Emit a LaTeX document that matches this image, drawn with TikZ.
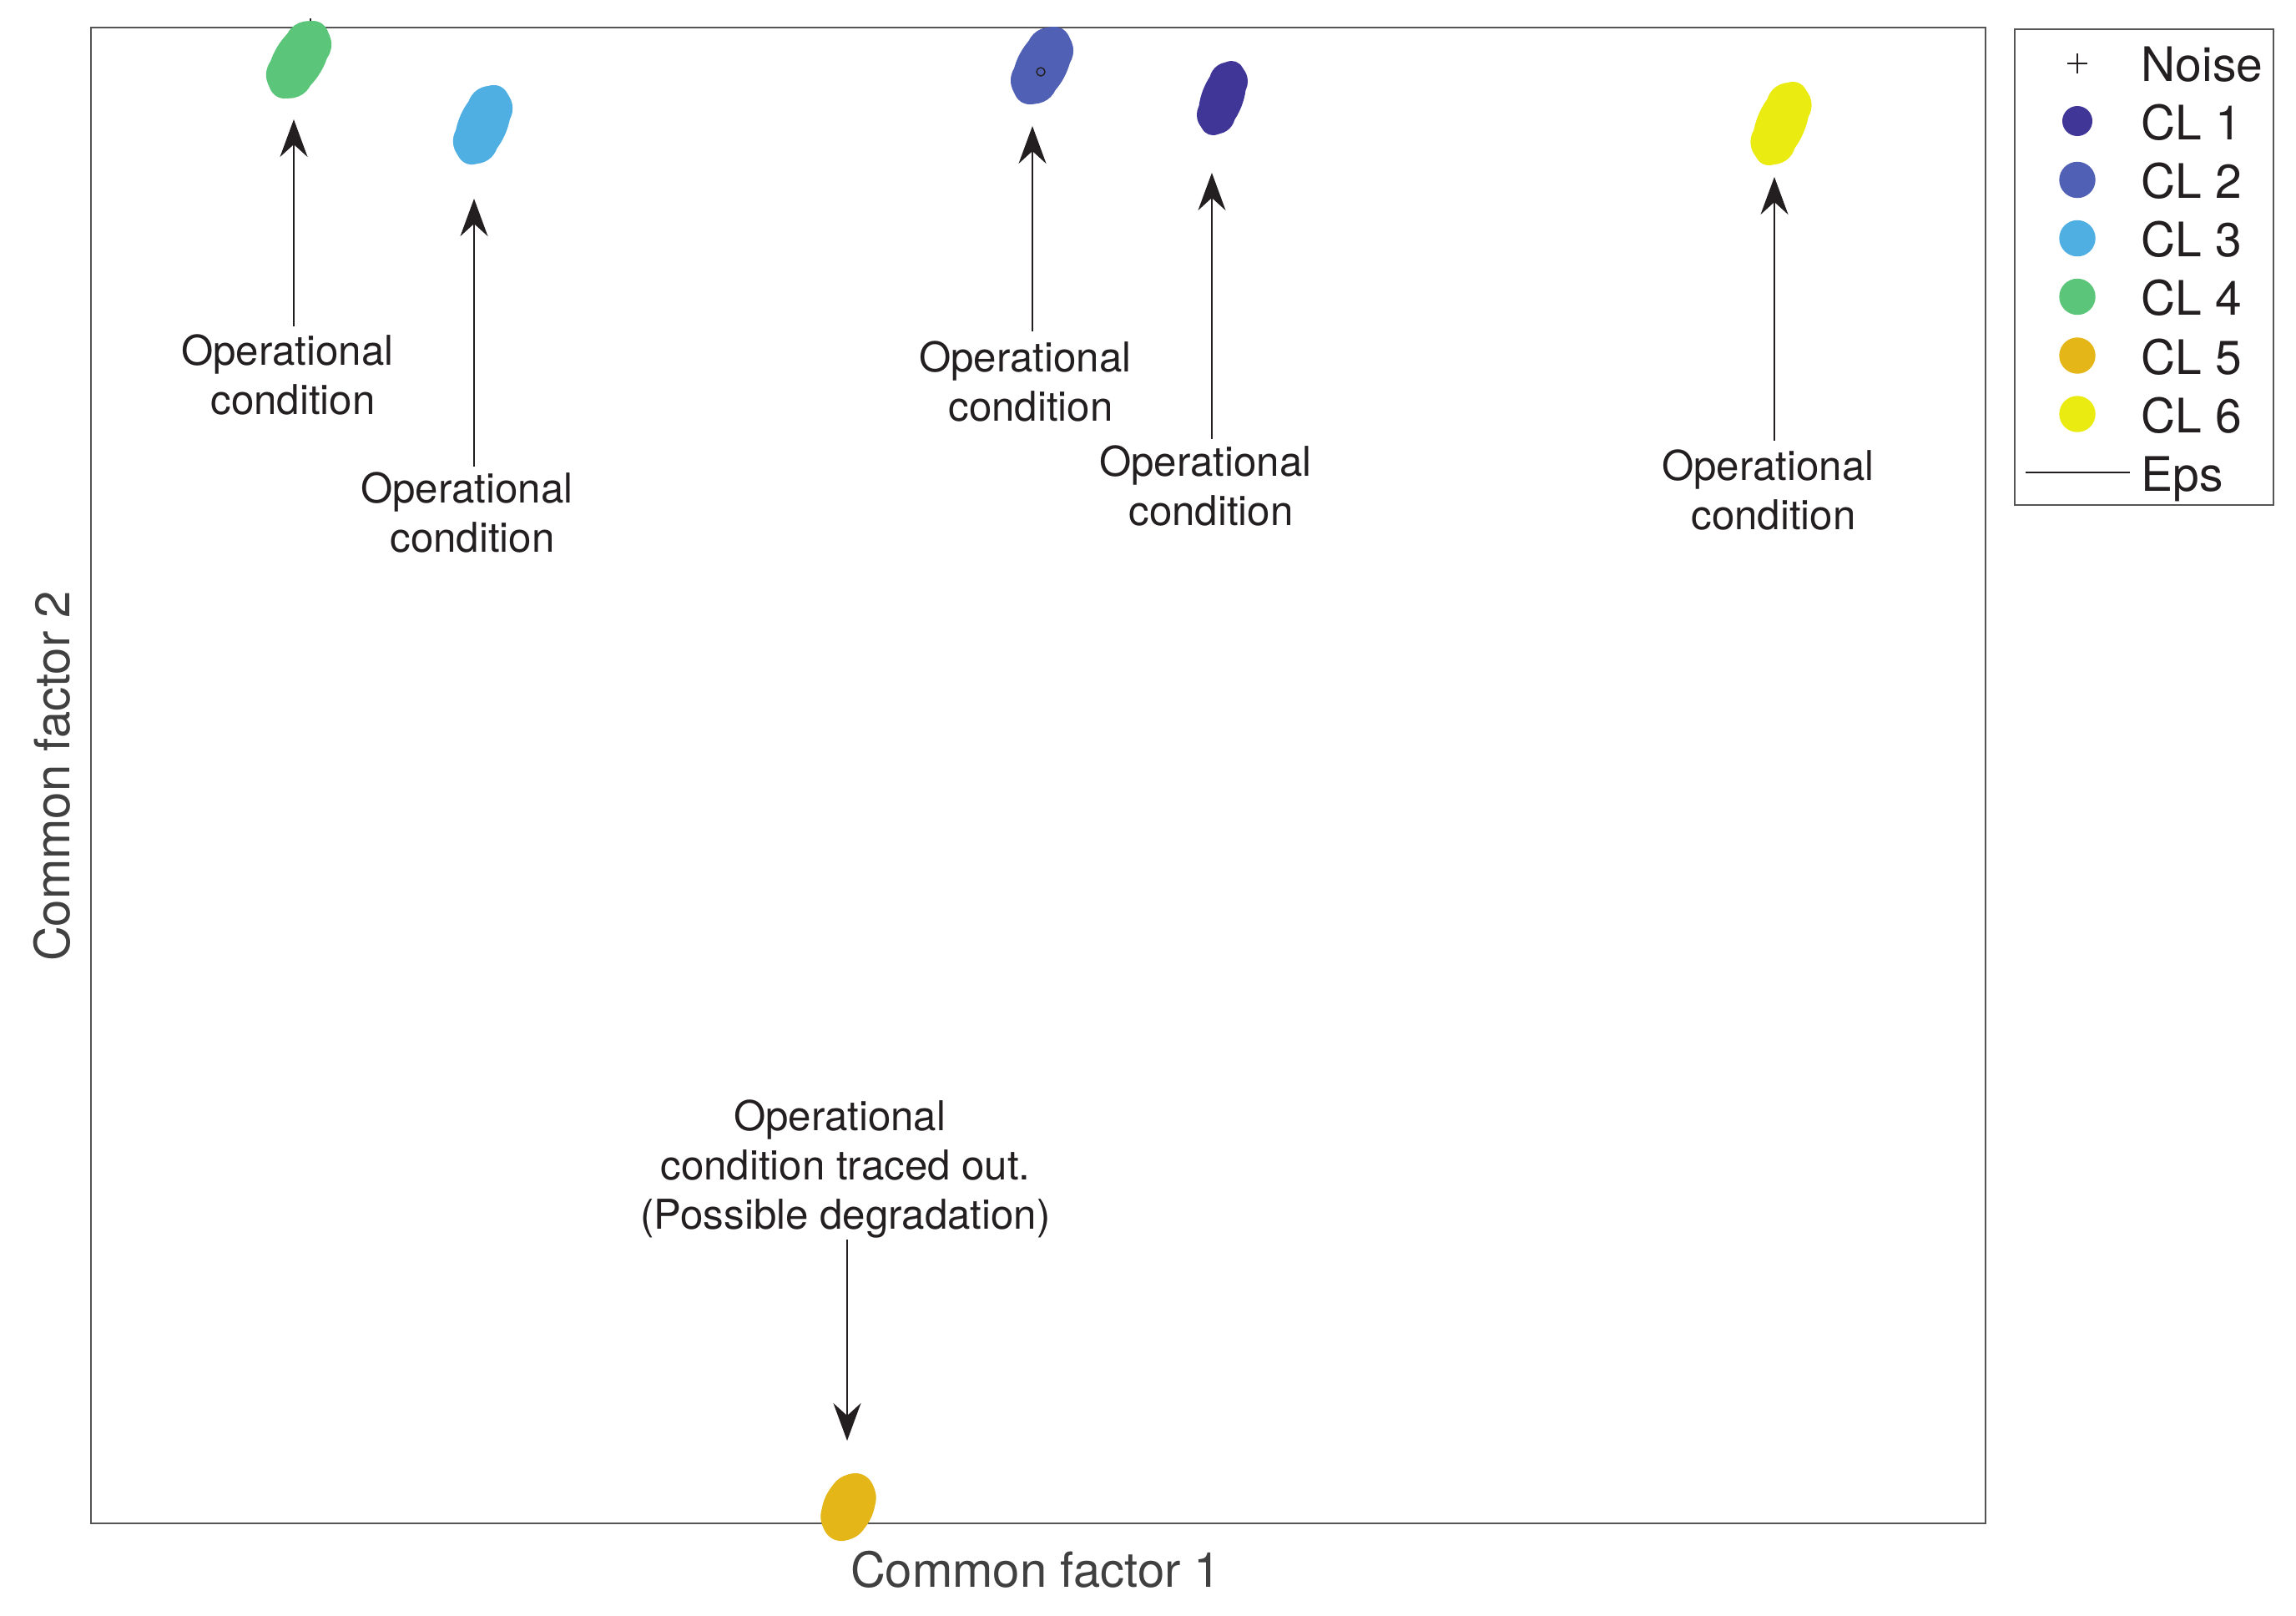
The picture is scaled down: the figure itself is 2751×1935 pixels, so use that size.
\documentclass[tikz,border=0pt]{standalone}
\usepackage{fontspec}
\setmainfont{TeX Gyre Heros}
\usetikzlibrary{arrows.meta}
\definecolor{clA}{HTML}{403698}
\definecolor{clB}{HTML}{5060B5}
\definecolor{clC}{HTML}{4FAEE2}
\definecolor{clD}{HTML}{5BC57A}
\definecolor{clE}{HTML}{E4B617}
\definecolor{clF}{HTML}{EAEB10}
\definecolor{txt}{HTML}{231F20}
\definecolor{axg}{HTML}{555555}
\definecolor{axt}{HTML}{404040}
\newcommand\trailsp{\rule{3.9pt}{0pt}}
\begin{document}
\begin{tikzpicture}[x=0.01cm,y=-0.01cm,
  lbl/.style={font=\fontsize{14}{16.75}\selectfont, align=center, anchor=north, inner sep=0pt, text=txt},
  arr/.style={draw=txt, line width=0.5pt, -{Stealth[length=4.5mm,width=3.3mm,inset=1.5mm]}},
  axlbl/.style={font=\fontsize{16.5}{19}\selectfont, text=axt, inner sep=0pt, anchor=base},
  legtxt/.style={font=\fontsize{16.2}{19}\selectfont, anchor=base west, inner sep=0pt, text=txt},
  frame/.style={draw=axg, line width=0.5pt},
  noisemark/.style={draw=txt, line width=0.4pt},
]
\useasboundingbox (0,0) rectangle (2751,1935);
\fill[white] (0,0) rectangle (2751,1935);
% axes frame
\draw[frame] (109,33) rectangle (2379,1825);
% noise point
\draw[noisemark] (360,34) -- (384,34) (372,22) -- (372,46);
% clusters
\fill[clD, rotate around={58.6:(358,71.5)}] (358,71.5) ellipse[x radius=.513cm, y radius=.30cm];
\fill[clD] (369.1,53.3) circle[radius=.28cm] (346.9,89.7) circle[radius=.28cm];
\fill[clC, rotate around={66:(578.5,149.5)}] (578.5,149.5) ellipse[x radius=.504cm, y radius=.29cm];
\fill[clC] (587.2,129.9) circle[radius=.27cm] (569.8,169.1) circle[radius=.27cm];
\fill[clB, rotate around={61.9:(1248.5,78.5)}] (1248.5,78.5) ellipse[x radius=.502cm, y radius=.30cm];
\fill[clB] (1258,60.7) circle[radius=.28cm] (1239,96.3) circle[radius=.28cm];
\draw[txt, line width=0.4pt] (1247,86) circle[radius=.05cm];
\fill[clA, rotate around={69.6:(1464.5,117.5)}] (1464.5,117.5) ellipse[x radius=.465cm, y radius=.25cm];
\fill[clA] (1472,97.4) circle[radius=.23cm] (1457,137.6) circle[radius=.23cm];
\fill[clF, rotate around={66.5:(2134,148)}] (2134,148) ellipse[x radius=.53cm, y radius=.29cm];
\fill[clF] (2143.6,126) circle[radius=.27cm] (2124.4,170) circle[radius=.27cm];
\fill[clE, rotate around={65.3:(1016.5,1805.5)}] (1016.5,1805.5) ellipse[x radius=.424cm, y radius=.30cm];
\fill[clE] (1021.7,1794.2) circle[radius=.28cm] (1011.3,1816.8) circle[radius=.28cm];
% labels
\node[lbl] (l1) at (351,400) {Operational\trailsp\\condition};
\node[lbl] (l2) at (566,565) {Operational\trailsp\\condition};
\node[lbl] (l3) at (1235,408) {Operational\trailsp\\condition};
\node[lbl] (l4) at (1451,533) {Operational\trailsp\\condition};
\node[lbl] (l5) at (2125,538) {Operational\trailsp\\condition};
\node[lbl] (l6) at (1013,1317) {Operational\trailsp\\condition traced out.\\(Possible degradation)};
% arrow ends
\coordinate (a1s) at (352,391); \coordinate (a1e) at (352,143);
\coordinate (a2s) at (568,559); \coordinate (a2e) at (568,238);
\coordinate (a3s) at (1237,397); \coordinate (a3e) at (1237,151);
\coordinate (a4s) at (1452,526); \coordinate (a4e) at (1452,207);
\coordinate (a5s) at (2126,528); \coordinate (a5e) at (2126,212);
\coordinate (a6s) at (1015,1485); \coordinate (a6e) at (1015,1726);
\draw[arr] (a1s) -- (a1e);
\draw[arr] (a2s) -- (a2e);
\draw[arr] (a3s) -- (a3e);
\draw[arr] (a4s) -- (a4e);
\draw[arr] (a5s) -- (a5e);
\draw[arr] (a6s) -- (a6e);
% axis labels
\node[axlbl] (xl) at (1241,1901) {Common factor 1};
\node[axlbl, rotate=90] (yl) at (83,930) {Common factor 2};
% legend
\draw[frame] (2414,35) rectangle (2724,605);
\draw[noisemark] (2477,76) -- (2501,76) (2489,64) -- (2489,88);
\fill[clA] (2489,145) circle[radius=.18cm];
\fill[clB] (2489,215.5) circle[radius=.217cm];
\fill[clC] (2489,285.5) circle[radius=.217cm];
\fill[clD] (2489,355.5) circle[radius=.217cm];
\fill[clE] (2489,426) circle[radius=.217cm];
\fill[clF] (2489,496) circle[radius=.217cm];
\draw[txt, line width=0.5pt] (2427,566) -- (2552,566);
\node[legtxt] (n0) at (2565,97.5) {Noise};
\node[legtxt] (n1) at (2565,167) {CL 1};
\node[legtxt] (n2) at (2565,237.5) {CL 2};
\node[legtxt] (n3) at (2565,307.5) {CL 3};
\node[legtxt] (n4) at (2565,377.5) {CL 4};
\node[legtxt] (n5) at (2565,448) {CL 5};
\node[legtxt] (n6) at (2565,518) {CL 6};
\node[legtxt] (n7) at (2565,588) {Eps};
\end{tikzpicture}
\end{document}
